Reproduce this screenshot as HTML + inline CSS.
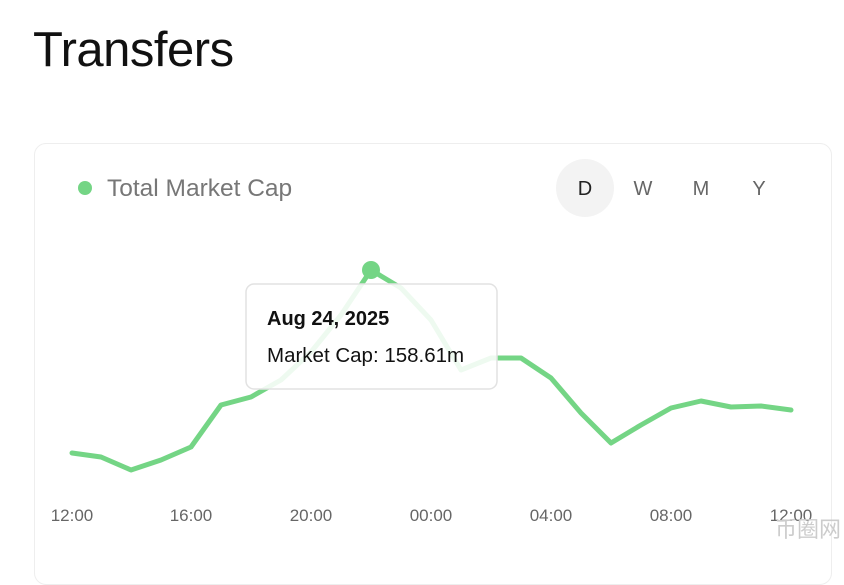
<!DOCTYPE html>
<html><head><meta charset="utf-8"><style>
body{margin:0;width:844px;height:553px;overflow:hidden;background:#fff;font-family:"Liberation Sans",sans-serif;position:relative}
.t{position:absolute;left:33px;top:22px;font-size:49px;color:#111;letter-spacing:-0.5px}
.card{position:absolute;left:34px;top:143px;width:796px;height:440px;border:1px solid #eee;border-radius:12px}
</style></head><body>
<div class="t">Transfers</div>
<div class="card"></div>
<svg width="844" height="553" style="position:absolute;left:0;top:0">
<circle cx="85" cy="188" r="7" fill="#74d585"/>
<text x="107" y="196" font-size="24.5" fill="#777" font-family="Liberation Sans">Total Market Cap</text>
<circle cx="585" cy="188" r="29" fill="#f3f3f3"/>
<g font-size="20" fill="#666" font-family="Liberation Sans" text-anchor="middle">
<text x="585" y="195" fill="#222">D</text><text x="643" y="195">W</text><text x="701" y="195">M</text><text x="759" y="195">Y</text></g>
<polyline fill="none" stroke="#74d585" stroke-width="5" stroke-linejoin="round" stroke-linecap="round" points="72,453 101,457 131,470 161,460 191,447 221,405 251,397 281,380 311,352 341,315 371,270 401,288 431,320 461,370 491,358 521,358 551,378 581,413 611,443 641,425 671,408 701,401 731,407 761,406 791,410"/>
<circle cx="371" cy="270" r="9" fill="#74d585"/>
<rect x="246" y="284" width="251" height="105" rx="8" fill="rgba(255,255,255,0.88)" stroke="#e2e2e2" stroke-width="1.5"/>
<text x="267" y="325" font-size="20" font-weight="bold" fill="#111" font-family="Liberation Sans">Aug 24, 2025</text>
<text x="267" y="362" font-size="20.5" fill="#111" font-family="Liberation Sans">Market Cap: 158.61m</text>
<g font-size="17" fill="#666" font-family="Liberation Sans" text-anchor="middle">
<text x="72" y="521">12:00</text><text x="191" y="521">16:00</text><text x="311" y="521">20:00</text><text x="431" y="521">00:00</text><text x="551" y="521">04:00</text><text x="671" y="521">08:00</text><text x="791" y="521">12:00</text></g>
<text x="775" y="537" font-size="22" fill="#ccc" font-family="Noto Sans CJK SC,sans-serif">币圈网</text>
</svg>
</body></html>
